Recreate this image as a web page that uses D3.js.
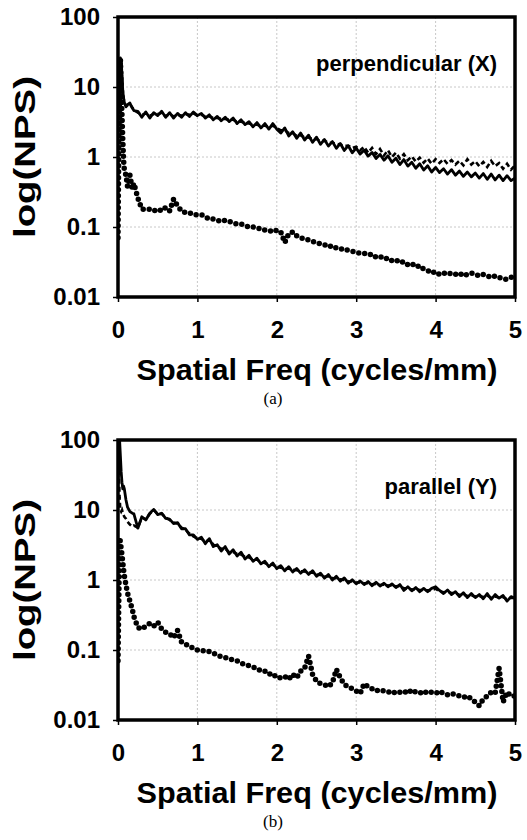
<!DOCTYPE html>
<html>
<head>
<meta charset="utf-8">
<script src="https://cdn.jsdelivr.net/npm/d3@7"></script>
<style>
  body { margin: 0; background: #fff; }
  svg { display: block; }
</style>
</head>
<body>
<div id="chart"></div>
<script>
// spatial frequency sample points (cycles/mm), shared by every series
const freq = [
  0, 0.01, 0.02, 0.03, 0.04, 0.05, 0.06, 0.07, 0.08, 0.1, 0.12, 0.15, 0.18, 0.2,
  0.25, 0.3, 0.35, 0.4, 0.45, 0.5, 0.55, 0.6, 0.65, 0.7, 0.75, 0.8, 0.85, 0.9, 0.95, 1,
  1.05, 1.1, 1.15, 1.2, 1.25, 1.3, 1.35, 1.4, 1.45, 1.5, 1.55, 1.6, 1.65, 1.7, 1.75, 1.8, 1.85, 1.9, 1.95, 2,
  2.05, 2.1, 2.15, 2.2, 2.25, 2.3, 2.35, 2.4, 2.45, 2.5, 2.55, 2.6, 2.65, 2.7, 2.75, 2.8, 2.85, 2.9, 2.95, 3,
  3.05, 3.1, 3.15, 3.2, 3.25, 3.3, 3.35, 3.4, 3.45, 3.5, 3.55, 3.6, 3.65, 3.7, 3.75, 3.8, 3.85, 3.9, 3.95, 4,
  4.05, 4.1, 4.15, 4.2, 4.25, 4.3, 4.35, 4.4, 4.45, 4.5, 4.55, 4.6, 4.65, 4.7, 4.75, 4.8, 4.85, 4.9, 4.95, 5
];

// (a) perpendicular (X)
const aSolid = [
  6, 10, 18, 26, 24, 15, 9, 7, 6, 5.2, 5.6, 5.9, 5.0, 4.6,
  4.5, 3.7, 4.4, 3.6, 4.3, 3.9, 4.5, 3.7, 4.3, 3.6, 4.2, 3.7, 4.3, 3.8, 4.4, 3.9,
  4.2, 3.6, 4.0, 3.4, 3.8, 3.3, 3.7, 3.2, 3.6, 3.0, 3.4, 2.9, 3.2, 2.7, 3.1, 2.6, 3.0, 2.5, 3.0, 2.5,
  2.2, 2.6, 2.0, 2.3, 1.85, 2.2, 1.75, 2.05, 1.62, 1.92, 1.52, 1.78, 1.43, 1.66, 1.33, 1.56, 1.24, 1.45, 1.15, 1.34,
  1.1, 1.25, 1.03, 1.16, 0.95, 1.09, 0.9, 1.04, 0.84, 0.96, 0.78, 0.92, 0.74, 0.84, 0.69, 0.8, 0.65, 0.75, 0.61, 0.71,
  0.6, 0.68, 0.57, 0.66, 0.55, 0.63, 0.53, 0.61, 0.52, 0.59, 0.5, 0.58, 0.48, 0.57, 0.47, 0.55, 0.46, 0.54, 0.46, 0.5
];
const aDashed = [
  6, 10, 17, 25, 23, 14, 9, 7, 6, 5.4, 5.5, 5.7, 5.1, 4.7,
  4.3, 4.0, 4.2, 3.9, 4.1, 4.1, 4.3, 3.8, 4.1, 3.8, 4.0, 3.9, 4.1, 4.0, 4.2, 3.9,
  4.0, 3.8, 3.8, 3.6, 3.6, 3.5, 3.5, 3.4, 3.4, 3.2, 3.2, 3.1, 3.0, 2.9, 2.9, 2.8, 2.8, 2.7, 2.8, 2.6,
  2.4, 2.4, 2.2, 2.2, 2.0, 2.05, 1.9, 1.9, 1.8, 1.8, 1.7, 1.7, 1.6, 1.6, 1.55, 1.5, 1.45, 1.45, 1.35, 1.4,
  1.25, 1.4, 1.15, 1.35, 1.1, 1.3, 1.05, 1.25, 1.0, 1.15, 0.95, 1.1, 0.9, 1.02, 0.86, 0.98, 0.83, 0.95, 0.8, 0.93,
  0.82, 0.93, 0.8, 0.9, 0.78, 0.88, 0.76, 0.93, 0.78, 0.87, 0.74, 0.85, 0.72, 0.88, 0.74, 0.82, 0.68, 0.8, 0.66, 0.76
];
const aDots = [
  0.07, 1.5, 12, 25, 10, 4, 1.8, 0.9, 0.65, 0.55, 0.38, 0.55, 0.35, 0.42,
  0.26, 0.18, 0.18, 0.18, 0.17, 0.18, 0.17, 0.19, 0.17, 0.25, 0.2, 0.17, 0.16, 0.16, 0.15, 0.15,
  0.15, 0.14, 0.13, 0.13, 0.125, 0.12, 0.125, 0.12, 0.115, 0.11, 0.11, 0.105, 0.1, 0.1, 0.095, 0.095, 0.09, 0.09, 0.085, 0.09,
  0.085, 0.06, 0.08, 0.085, 0.075, 0.07, 0.068, 0.065, 0.062, 0.06, 0.057, 0.056, 0.052, 0.054, 0.05, 0.048, 0.049, 0.046, 0.045, 0.044,
  0.042, 0.042, 0.04, 0.041, 0.037, 0.038, 0.035, 0.036, 0.033, 0.034, 0.031, 0.032, 0.029, 0.03, 0.027, 0.028, 0.025, 0.024, 0.022, 0.023,
  0.021, 0.022, 0.021, 0.022, 0.021, 0.022, 0.02, 0.021, 0.022, 0.021, 0.02, 0.021, 0.02, 0.019, 0.02, 0.019, 0.018, 0.018, 0.019, 0.021
];

// (b) parallel (Y)
const bSolid = [
  30, 70, 100, 60, 35, 25, 20, 22, 20, 14, 11, 9.5, 9, 8.8,
  5.5, 8.0, 7.2, 9.0, 10.2, 8.6, 9.0, 7.6, 7.4, 6.4, 6.6, 5.4, 5.4, 4.4, 4.4, 3.8,
  4.1, 3.3, 3.9, 3.0, 3.2, 2.6, 3.0, 2.35, 2.7, 2.2, 2.5, 2.0, 2.25, 1.85, 2.05, 1.7, 1.85, 1.55, 1.75, 1.45,
  1.6, 1.35, 1.55, 1.3, 1.46, 1.25, 1.4, 1.2, 1.36, 1.13, 1.25, 1.06, 1.2, 1.0, 1.13, 0.96, 1.07, 0.9, 1.01, 0.88,
  0.97, 0.86, 0.95, 0.83, 0.93, 0.82, 0.9, 0.8, 0.88, 0.78, 0.86, 0.71, 0.8, 0.7, 0.78, 0.68, 0.76, 0.68, 0.76, 0.8,
  0.71, 0.64, 0.72, 0.62, 0.68, 0.58, 0.66, 0.56, 0.64, 0.56, 0.62, 0.54, 0.64, 0.53, 0.62, 0.55, 0.6, 0.5, 0.58, 0.55
];
const bDashed = [
  20, 40, 15, 10, 9.5, 10, 9, 8.5, 8, 7.5, 6.8, 6.2, 5.8, 6.0,
  5.6, 7.8, 7.4, 8.8, 10.0, 8.8, 8.8, 7.8, 7.2, 6.6, 6.4, 5.6, 5.2, 4.6, 4.2, 3.9,
  3.9, 3.5, 3.8, 3.2, 3.0, 2.8, 2.8, 2.5, 2.5, 2.35, 2.3, 2.15, 2.1, 1.95, 1.95, 1.8, 1.75, 1.65, 1.65, 1.55,
  1.5, 1.45, 1.45, 1.4, 1.38, 1.33, 1.32, 1.27, 1.28, 1.2, 1.18, 1.13, 1.12, 1.07, 1.06, 1.02, 1.0, 0.96, 0.95, 0.92,
  0.92, 0.9, 0.9, 0.87, 0.88, 0.85, 0.86, 0.83, 0.84, 0.81, 0.82, 0.76, 0.76, 0.73, 0.74, 0.72, 0.72, 0.71, 0.72, 0.75,
  0.69, 0.67, 0.68, 0.65, 0.65, 0.61, 0.62, 0.59, 0.6, 0.58, 0.59, 0.57, 0.6, 0.56, 0.58, 0.56, 0.57, 0.53, 0.56, 0.55
];
const bDots = [
  0.07, 0.5, 4, 3.5, 2.8, 2.3, 1.8, 1.4, 1.15, 0.85, 0.65, 0.5, 0.38, 0.3,
  0.21, 0.2, 0.22, 0.24, 0.22, 0.25, 0.2, 0.18, 0.17, 0.15, 0.19, 0.13, 0.12, 0.115, 0.105, 0.1,
  0.1, 0.095, 0.095, 0.09, 0.085, 0.08, 0.078, 0.075, 0.072, 0.07, 0.065, 0.062, 0.06, 0.057, 0.055, 0.05, 0.05, 0.045, 0.046, 0.04,
  0.04, 0.042, 0.038, 0.045, 0.04, 0.05, 0.055, 0.082, 0.045, 0.036, 0.033, 0.032, 0.03, 0.034, 0.053, 0.04, 0.032, 0.03, 0.028, 0.026,
  0.024, 0.033, 0.03, 0.028, 0.026, 0.027, 0.026, 0.025, 0.026, 0.024, 0.025, 0.026, 0.024, 0.027, 0.025, 0.024, 0.026, 0.024, 0.025, 0.024,
  0.026, 0.024, 0.023, 0.024, 0.023, 0.022, 0.021, 0.022, 0.02, 0.018, 0.016, 0.02, 0.022, 0.025, 0.024, 0.055, 0.018, 0.025, 0.022, 0.022
];

const xTicks = [0, 1, 2, 3, 4, 5];
const xTickLabels = ["0", "1", "2", "3", "4", "5"];
const yTicks = [0.01, 0.1, 1, 10, 100];
const yTickLabels = ["0.01", "0.1", "1", "10", "100"];
const xTitle = "Spatial Freq (cycles/mm)";
const yTitle = "log(NPS)";

const W = 527, H = 840;
const plotW = 397, plotH = 280;
const sans = "'Liberation Sans', Arial, Helvetica, sans-serif";

const svg = d3.select("#chart").append("svg")
    .attr("width", W)
    .attr("height", H);

function drawPanel(top, solid, dashed, dots, label, caption, id){
    const g = svg.append("g")
        .attr("transform", "translate(118," + top + ")");

    const x = d3.scaleLinear().domain([0, 5]).range([0, plotW]);
    const y = d3.scaleLog().domain([0.01, 100]).range([plotH, 0]);

    // dotted grid
    g.append("g").selectAll("line")
        .data(xTicks.slice(1, -1))
        .enter().append("line")
            .attr("x1", d => x(d)).attr("x2", d => x(d))
            .attr("y1", 0).attr("y2", plotH)
            .style("stroke", "#c8c8c8")
            .style("stroke-dasharray", "2 2");
    g.append("g").selectAll("line")
        .data(yTicks.slice(1, -1))
        .enter().append("line")
            .attr("x1", 0).attr("x2", plotW)
            .attr("y1", d => y(d)).attr("y2", d => y(d))
            .style("stroke", "#c8c8c8")
            .style("stroke-dasharray", "2 2");

    g.append("clipPath").attr("id", id)
        .append("rect").attr("width", plotW).attr("height", plotH);

    const line = d3.line()
        .x((d, i) => x(freq[i]))
        .y(d => y(d));

    const lines = g.append("g").attr("clip-path", "url(#" + id + ")");

    lines.append("path")
        .datum(dots)
        .attr("d", line)
        .style("fill", "none")
        .style("stroke", "#000")
        .style("stroke-width", 5.5)
        .style("stroke-linecap", "round")
        .style("stroke-dasharray", "0 6");

    lines.append("path")
        .datum(dashed)
        .attr("d", line)
        .style("fill", "none")
        .style("stroke", "#000")
        .style("stroke-width", 2.6)
        .style("stroke-dasharray", "5 3");

    lines.append("path")
        .datum(solid)
        .attr("d", line)
        .style("fill", "none")
        .style("stroke", "#000")
        .style("stroke-width", 2.8)
        .style("stroke-linejoin", "round");

    // frame
    g.append("rect")
        .attr("width", plotW)
        .attr("height", plotH)
        .style("fill", "none")
        .style("stroke", "#000")
        .style("stroke-width", 3.5);

    const yAxis = g.append("g")
        .call(d3.axisLeft(y).tickValues(yTicks)
            .tickFormat((d, i) => yTickLabels[i])
            .tickSize(5).tickPadding(13));
    yAxis.select(".domain").remove();

    const xAxis = g.append("g")
        .attr("transform", "translate(0," + plotH + ")")
        .call(d3.axisBottom(x).tickValues(xTicks)
            .tickFormat((d, i) => xTickLabels[i])
            .tickSize(5).tickPadding(19));
    xAxis.select(".domain").remove();

    g.selectAll(".tick line").style("stroke", "#000").style("stroke-width", 1.5);
    g.selectAll(".tick text")
        .style("font-family", sans)
        .style("font-weight", "bold")
        .style("font-size", "24px")
        .style("fill", "#000");

    g.append("text")
        .attr("x", 379)
        .attr("y", 54)
        .attr("text-anchor", "end")
        .style("font-family", sans)
        .style("font-weight", "bold")
        .style("font-size", "22px")
        .text(label);

    g.append("text")
        .attr("x", 199)
        .attr("y", plotH + 83)
        .attr("text-anchor", "middle")
        .attr("textLength", 361)
        .attr("lengthAdjust", "spacingAndGlyphs")
        .style("font-family", sans)
        .style("font-weight", "bold")
        .style("font-size", "29px")
        .text(xTitle);

    g.append("text")
        .attr("transform", "translate(-83," + (plotH / 2) + ") rotate(-90)")
        .attr("text-anchor", "middle")
        .attr("textLength", 162)
        .attr("lengthAdjust", "spacingAndGlyphs")
        .style("font-family", sans)
        .style("font-weight", "bold")
        .style("font-size", "29px")
        .text(yTitle);

    g.append("text")
        .attr("x", 155)
        .attr("y", plotH + 107)
        .attr("text-anchor", "middle")
        .style("font-family", "'Liberation Serif', 'Times New Roman', serif")
        .style("font-size", "17px")
        .text(caption);
}

drawPanel(17, aSolid, aDashed, aDots, "perpendicular (X)", "(a)", "clipA");
drawPanel(440, bSolid, bDashed, bDots, "parallel (Y)", "(b)", "clipB");
</script>
</body>
</html>
